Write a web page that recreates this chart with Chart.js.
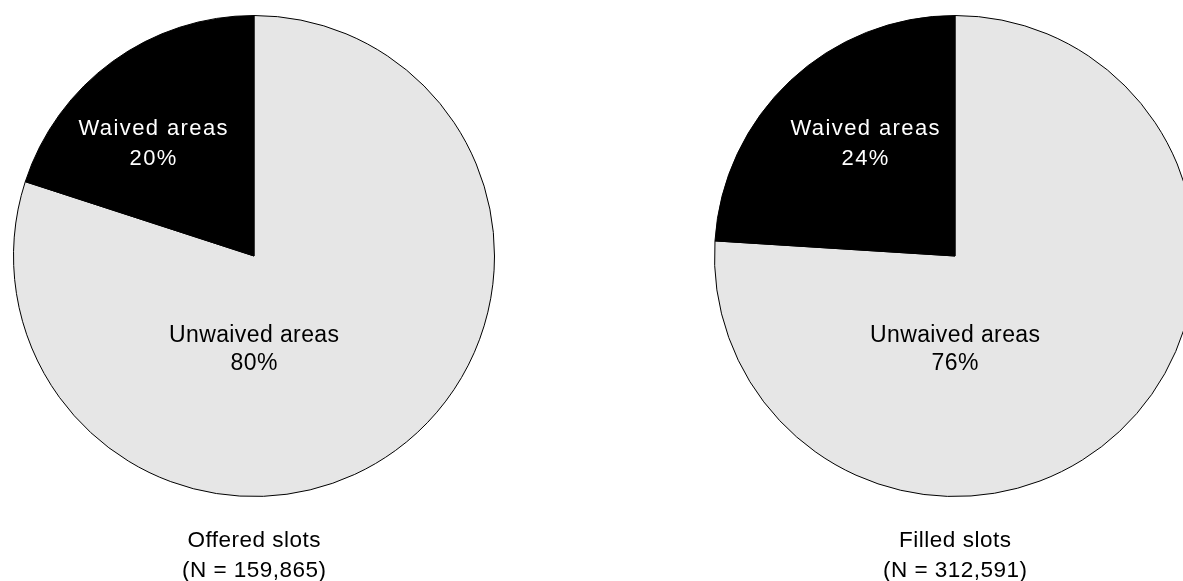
<!DOCTYPE html>
<html lang="en">
<head>
<meta charset="UTF-8">
<title>Waived and unwaived areas: offered vs filled slots</title>
<style>
  html, body { margin: 0; padding: 0; background: #fff; }
  body { width: 1183px; height: 581px; overflow: hidden; position: relative; }
  canvas { position: absolute; top: 0; }
  #offeredChart { left: 0; }
  #filledChart { left: 701px; }
</style>
</head>
<body>
<canvas id="offeredChart" width="508" height="581"></canvas>
<canvas id="filledChart" width="508" height="581"></canvas>

<script src="https://cdn.jsdelivr.net/npm/chart.js@4.4.1/dist/chart.umd.min.js"></script>
<script>
// data (clockwise from 12 o'clock)
const areaNames = ['Unwaived areas', 'Waived areas'];
const offeredShares = [80, 20];
const filledShares = [76, 24];
const offeredCaption = ['Offered slots', '(N = 159,865)'];
const filledCaption = ['Filled slots', '(N = 312,591)'];

const sliceColors = ['#e6e6e6', '#000000'];
const textColors = ['#000000', '#ffffff'];

// writes "name / xx%" inside each slice, relative to the pie centre
const sliceLabels = {
    id: 'sliceLabels',
    afterDatasetsDraw(chart, args, opts) {
        const ctx = chart.ctx;
        const meta = chart.getDatasetMeta(0);
        const values = chart.data.datasets[0].data;
        meta.data.forEach((arc, i) => {
            const spot = opts.spots[i];
            const lines = [chart.data.labels[i], values[i] + '%'];
            ctx.save();
            ctx.font = spot.font;
            ctx.fillStyle = textColors[i];
            ctx.textAlign = 'center';
            ctx.textBaseline = 'alphabetic';
            ctx.letterSpacing = spot.spacing + 'px';
            lines.forEach((txt, k) => {
                ctx.fillText(txt, arc.x + spot.dx + spot.spacing / 2, arc.y + spot.dy[k]);
            });
            ctx.restore();
        });
    }
};

// two-line caption under each pie
const caption = {
    id: 'caption',
    afterDraw(chart, args, opts) {
        const ctx = chart.ctx;
        const cx = (chart.chartArea.left + chart.chartArea.right) / 2;
        ctx.save();
        ctx.font = '22.5px "Liberation Sans", Arial, sans-serif';
        ctx.fillStyle = '#000';
        ctx.textAlign = 'center';
        ctx.textBaseline = 'alphabetic';
        ctx.letterSpacing = '0.5px';
        opts.lines.forEach((txt, k) => ctx.fillText(txt, cx + 0.25, 547 + k * 30));
        ctx.restore();
    }
};

function drawPie(canvas, shares, captionLines, waivedDx) {
    return new Chart(canvas, {
        type: 'pie',
        data: {
            labels: areaNames,
            datasets: [{
                data: shares,
                backgroundColor: sliceColors,
                borderColor: '#000',
                borderWidth: 1,
                radius: 240.5
            }]
        },
        options: {
            responsive: false,
            devicePixelRatio: 1,
            animation: false,
            layout: { padding: { top: 0, left: 0, right: 0, bottom: 69 } },
            plugins: {
                legend: { display: false },
                tooltip: { enabled: false },
                sliceLabels: {
                    spots: [
                        { dx: 0, dy: [86, 114], font: '23px "Liberation Sans", Arial, sans-serif', spacing: 0.4 },
                        { dx: waivedDx, dy: [-121, -91], font: '22px "Liberation Sans", Arial, sans-serif', spacing: 1.4 }
                    ]
                },
                caption: { lines: captionLines }
            }
        },
        plugins: [sliceLabels, caption]
    });
}

drawPie(document.getElementById('offeredChart'), offeredShares, offeredCaption, -101);
drawPie(document.getElementById('filledChart'), filledShares, filledCaption, -90);
</script>
</body>
</html>
